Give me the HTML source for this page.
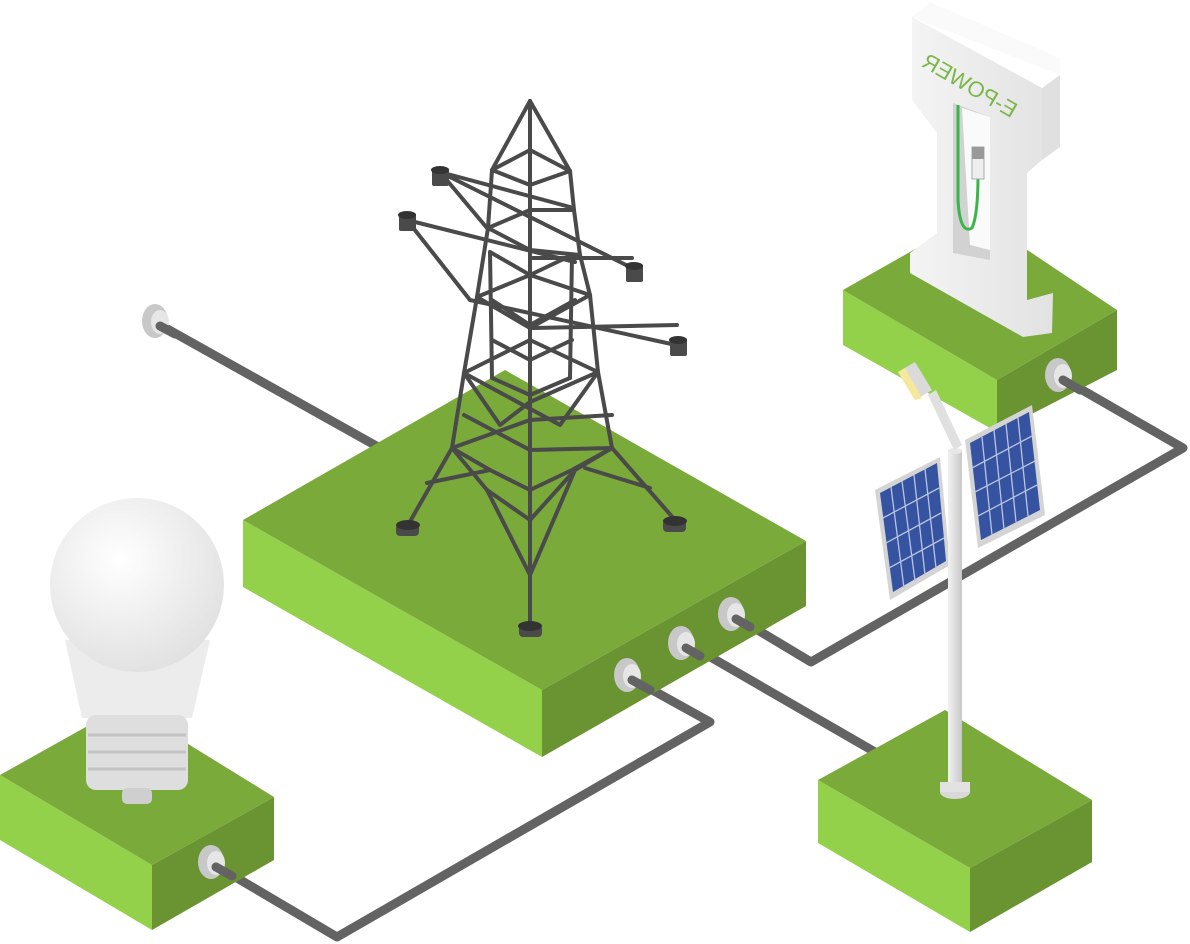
<!DOCTYPE html>
<html><head><meta charset="utf-8"><style>html,body{margin:0;padding:0;background:#fff;}svg{display:block}</style></head>
<body>
<svg width="1190" height="944" viewBox="0 0 1190 944" xmlns="http://www.w3.org/2000/svg">
<defs>
<radialGradient id="bulb" cx="0.4" cy="0.35" r="0.7"><stop offset="0" stop-color="#ffffff"/><stop offset="1" stop-color="#e0e0e0"/></radialGradient>
<linearGradient id="pole" x1="0" x2="1"><stop offset="0" stop-color="#f2f2f2"/><stop offset="1" stop-color="#c8c8c8"/></linearGradient>
<linearGradient id="st" x1="0" x2="1"><stop offset="0" stop-color="#f4f4f4"/><stop offset="1" stop-color="#e2e2e2"/></linearGradient>
</defs>
<g stroke="#636363" stroke-width="9" fill="none" stroke-linecap="round" stroke-linejoin="round">
<polyline points="155,322 380,448"/>
<polyline points="627,676 710,722 337,937 210,862"/>
<polyline points="681,640 875,752"/>
<polyline points="731,614 811,662 1183,448 1058,376"/>
</g>
<polygon points="243,520 542,690 542,757 243,587" fill="#94d14a"/>
<polygon points="542,690 806,541 806,606 542,757" fill="#6a9432"/>
<polygon points="243,520 505,370 806,541 542,690" fill="#7aaa3a"/>
<polygon points="0,775 152,865 152,930 0,840" fill="#94d14a"/>
<polygon points="152,865 274,797 274,860 152,930" fill="#6a9432"/>
<polygon points="0,775 125,705 274,797 152,865" fill="#7aaa3a"/>
<polygon points="843,290 997,380 997,432 843,345" fill="#94d14a"/>
<polygon points="997,380 1117,310 1117,370 997,432" fill="#6a9432"/>
<polygon points="843,290 975,215 1117,310 997,380" fill="#7aaa3a"/>
<polygon points="818,780 970,868 970,932 818,843" fill="#94d14a"/>
<polygon points="970,868 1092,800 1092,862 970,932" fill="#6a9432"/>
<polygon points="818,780 945,710 1092,800 970,868" fill="#7aaa3a"/>
<g>
<ellipse cx="155" cy="321" rx="13" ry="17" fill="#c8c8c8"/><ellipse cx="160" cy="322" rx="9" ry="12" fill="#e6e6e6"/>
<ellipse cx="627" cy="675" rx="13" ry="17" fill="#c8c8c8"/><ellipse cx="632" cy="676" rx="9" ry="12" fill="#e6e6e6"/>
<ellipse cx="681" cy="643" rx="13" ry="17" fill="#c8c8c8"/><ellipse cx="686" cy="644" rx="9" ry="12" fill="#e6e6e6"/>
<ellipse cx="731" cy="614" rx="13" ry="17" fill="#c8c8c8"/><ellipse cx="736" cy="615" rx="9" ry="12" fill="#e6e6e6"/>
<ellipse cx="211" cy="862" rx="13" ry="17" fill="#c8c8c8"/><ellipse cx="216" cy="863" rx="9" ry="12" fill="#e6e6e6"/>
<ellipse cx="1058" cy="375" rx="13" ry="17" fill="#c8c8c8"/><ellipse cx="1063" cy="376" rx="9" ry="12" fill="#e6e6e6"/>
</g>
<g stroke="#636363" stroke-width="9" fill="none" stroke-linecap="round">
<line x1="632" y1="680" x2="650" y2="690"/><line x1="686" y1="648" x2="700" y2="656"/><line x1="736" y1="619" x2="750" y2="627"/><line x1="216" y1="867" x2="232" y2="876"/><line x1="1063" y1="380" x2="1080" y2="390"/><line x1="160" y1="326" x2="175" y2="334"/>
</g>
<g stroke="#4a4a4a" stroke-width="4" fill="none" stroke-linejoin="round" stroke-linecap="round">
<line x1="530" y1="101" x2="530" y2="628"/>
<polyline points="530,101 492,170 488,228 477,297 464,373 452,448 408,525"/>
<polyline points="530,101 570,171 574,210 580,255 590,295 598,372 612,448 675,520"/>
<polyline points="490,252 492,378"/><polyline points="572,255 570,378"/>
<polyline points="492,170 530,150 570,171 530,185 492,170"/>
<polyline points="488,228 530,210 574,210"/>
<polyline points="488,228 530,250 580,255"/>
<polyline points="490,252 530,275 572,255"/>
<polyline points="477,297 530,275 590,295"/>
<polyline points="492,300 530,325 575,300"/>
<polyline points="477,297 530,328 590,295"/>
<polyline points="492,340 530,360 572,340"/>
<polyline points="464,373 530,340 598,372"/>
<polyline points="492,378 530,395 570,378"/>
<polyline points="464,373 500,425 530,402 598,372"/>
<polyline points="464,373 560,425 598,372"/>
<polyline points="464,415 530,450 612,448"/>
<polyline points="452,448 530,420 612,415"/>
<polyline points="452,448 490,470 530,490 572,470 612,448"/>
<polyline points="452,448 487,490 530,520 575,470 612,448"/>
<polyline points="427,483 490,470"/><polyline points="650,488 585,468"/>
<polyline points="487,490 530,575 575,470"/>
<polyline points="440,172 570,207"/><polyline points="440,172 487,228"/>
<polyline points="440,172 632,268"/>
<polyline points="407,220 575,262"/><polyline points="407,220 470,300"/>
<polyline points="470,300 676,345"/>
<polyline points="533,258 632,258"/><polyline points="533,328 677,325"/>
</g>
<g fill="#4a4a4a">
<rect x="432" y="168" width="17" height="18" rx="2"/><ellipse cx="440" cy="170" rx="9" ry="4" fill="#333"/>
<rect x="399" y="213" width="17" height="18" rx="2"/><ellipse cx="407" cy="215" rx="9" ry="4" fill="#333"/>
<rect x="626" y="264" width="17" height="18" rx="2"/><ellipse cx="634" cy="266" rx="9" ry="4" fill="#333"/>
<rect x="670" y="338" width="17" height="18" rx="2"/><ellipse cx="678" cy="340" rx="9" ry="4" fill="#333"/>
<rect x="396" y="524" width="23" height="12" rx="4"/><ellipse cx="408" cy="525" rx="12" ry="5" fill="#333"/>
<rect x="663" y="520" width="23" height="12" rx="4"/><ellipse cx="675" cy="521" rx="12" ry="5" fill="#333"/>
<rect x="519" y="625" width="23" height="12" rx="4"/><ellipse cx="530" cy="626" rx="12" ry="5" fill="#333"/>
</g>
<polygon points="65,640 82,718 192,718 210,640" fill="#ececec"/>
<circle cx="137" cy="585" r="87" fill="url(#bulb)"/>
<rect x="86" y="715" width="102" height="75" rx="10" fill="#dedede"/>
<g stroke="#c4c4c4" stroke-width="3"><line x1="88" y1="735" x2="186" y2="735"/><line x1="88" y1="752" x2="186" y2="752"/><line x1="88" y1="769" x2="186" y2="769"/></g>
<rect x="122" y="788" width="30" height="16" rx="5" fill="#cfcfcf"/>
<!-- charging station -->
<polygon points="912,17 930,2 1060,58 1060,75" fill="#fafafa"/>
<polygon points="912,17 1042,88 1042,160 1027,173 1027,300 1053,293 1052,333 1023,337 910,273 910,253 937,233 937,133 912,100" fill="url(#st)"/>
<polygon points="1042,88 1060,75 1060,147 1042,160" fill="#e0e0e0"/>
<polygon points="953,103 990,117 990,260 953,253" fill="#d2d2d2"/>
<polygon points="962,108 990,117 990,250 970,245" fill="#fafafa"/>
<path d="M958,105 L958,200 Q960,235 972,228 Q978,215 978,175" stroke="#3ab54a" stroke-width="3" fill="none"/>
<rect x="972" y="147" width="12" height="32" fill="#eee" stroke="#aaa" stroke-width="1"/><rect x="972" y="147" width="12" height="12" fill="#999"/>
<text x="0" y="0" transform="translate(966,92) rotate(30) scale(-1,1)" text-anchor="middle" font-family="Liberation Sans, sans-serif" font-size="22" fill="#7ab648">E-POWER</text>
<!-- solar lamp -->
<polygon points="875,490 940,457 950,565 890,600" fill="#d4d4d4"/>
<polygon points="880,493 937,463 946,561 893,592" fill="#3553a0"/>
<g stroke="#b8c4e0" stroke-width="1.3">
<line x1="891" y1="487" x2="904" y2="588"/><line x1="902" y1="481" x2="915" y2="581"/><line x1="914" y1="475" x2="925" y2="575"/><line x1="925" y1="469" x2="936" y2="568"/>
<line x1="883" y1="518" x2="939" y2="488"/><line x1="886" y1="543" x2="941" y2="513"/><line x1="889" y1="568" x2="944" y2="538"/>
</g>
<rect x="948" y="450" width="14" height="340" fill="url(#pole)"/>
<ellipse cx="955" cy="451" rx="7" ry="3" fill="#e8e8e8"/>
<ellipse cx="955" cy="792" rx="15" ry="7" fill="#d8d8d8"/><rect x="940" y="782" width="30" height="10" fill="#e2e2e2"/>
<polygon points="928,395 936,390 962,445 954,450" fill="#e0e0e0"/>
<polygon points="898,372 915,362 932,390 915,400" fill="#dadada"/>
<polygon points="898,372 905,368 922,398 915,400" fill="#f5e89a"/>
<polygon points="965,440 1032,405 1045,515 978,548" fill="#d4d4d4"/>
<polygon points="970,443 1029,412 1040,510 981,540" fill="#3553a0"/>
<g stroke="#b8c4e0" stroke-width="1.3">
<line x1="982" y1="437" x2="992" y2="535"/><line x1="994" y1="430" x2="1004" y2="529"/><line x1="1006" y1="424" x2="1016" y2="522"/><line x1="1018" y1="418" x2="1028" y2="516"/>
<line x1="972" y1="468" x2="1032" y2="436"/><line x1="975" y1="492" x2="1035" y2="461"/><line x1="978" y1="516" x2="1037" y2="485"/>
</g>
</svg>
</body></html>
